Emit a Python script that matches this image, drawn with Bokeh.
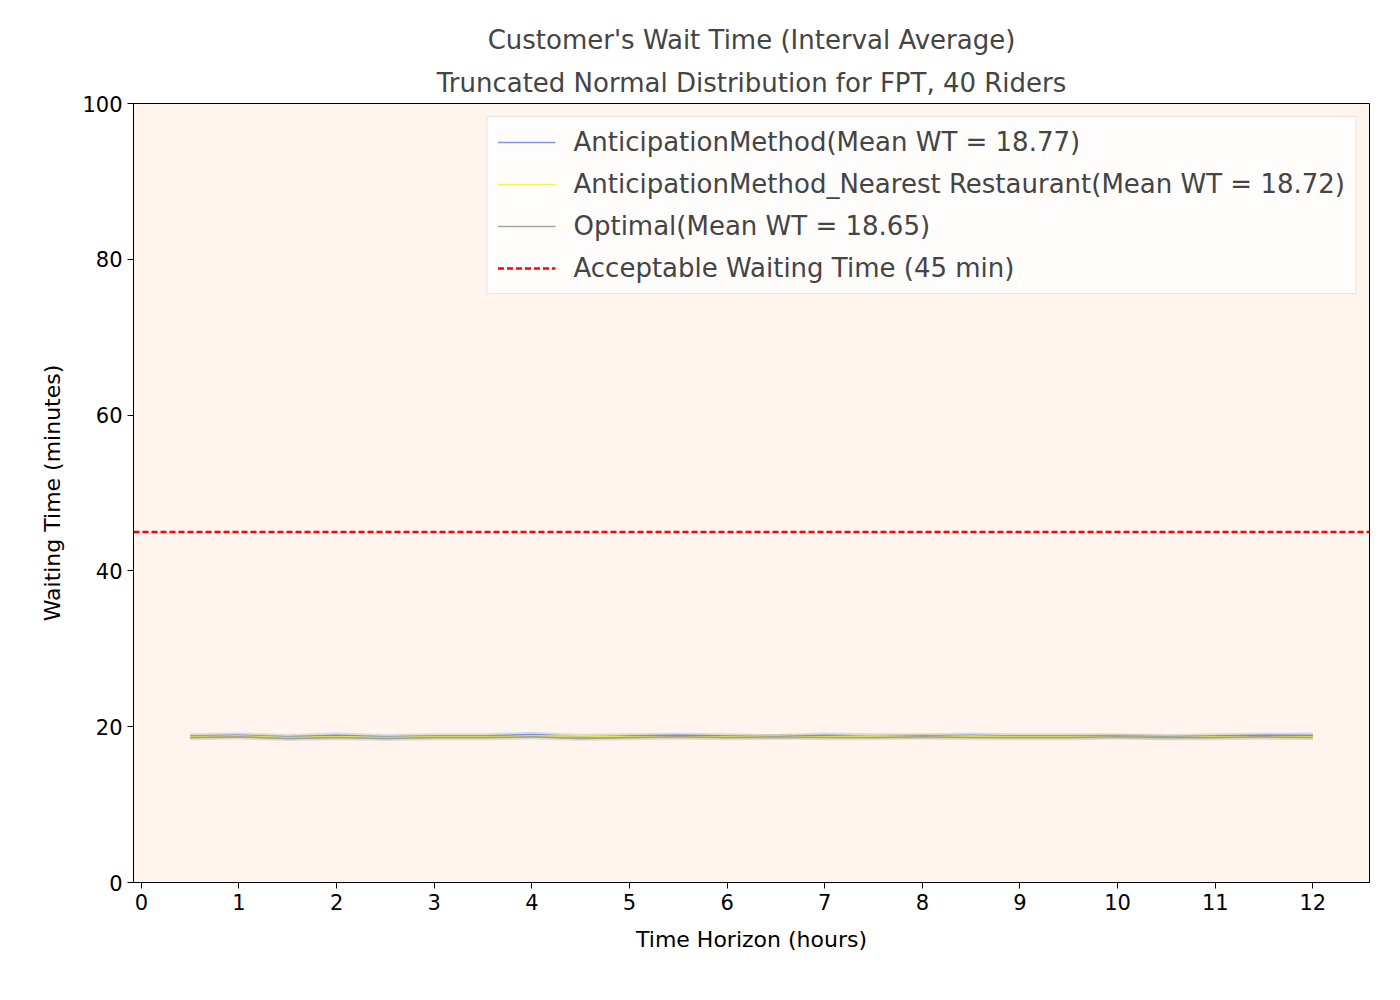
from bokeh.plotting import figure
from bokeh.models import Span, Range1d, Legend, LegendItem, FixedTicker, Title
from bokeh.embed import file_html
from bokeh.resources import INLINE

hours = [0.5 * (i + 1) for i in range(24)]

anticipation = [18.8, 18.9, 18.7, 18.9, 18.7, 18.8, 18.8, 19.0, 18.7, 18.8, 18.9, 18.8,
                18.7, 18.9, 18.8, 18.8, 18.9, 18.8, 18.8, 18.8, 18.7, 18.8, 18.9, 18.9]
nearest = [18.7, 18.8, 18.6, 18.7, 18.6, 18.7, 18.7, 18.8, 18.8, 18.7, 18.7, 18.7,
           18.7, 18.7, 18.8, 18.7, 18.8, 18.7, 18.7, 18.7, 18.6, 18.7, 18.7, 18.7]
optimal = [18.6, 18.7, 18.5, 18.6, 18.5, 18.6, 18.6, 18.7, 18.5, 18.6, 18.7, 18.6,
           18.7, 18.6, 18.6, 18.7, 18.6, 18.6, 18.6, 18.7, 18.6, 18.6, 18.7, 18.6]
band = 0.35

p = figure(width=1384, height=984, output_backend="svg", toolbar_location=None,
           x_range=Range1d(-0.08, 12.58), y_range=Range1d(0, 100),
           min_border_left=133, min_border_right=15, min_border_top=103, min_border_bottom=102)
p.background_fill_color = "#fff4ee"
p.grid.visible = False
p.outline_line_color = "black"

for y, c in [(anticipation, "#6f8ad8"), (nearest, "#e8e84a"), (optimal, "#999999")]:
    p.varea(hours, [v - band for v in y], [v + band for v in y], fill_color=c, fill_alpha=0.25)

r1 = p.line(hours, anticipation, line_color="#6f8ad8", line_width=1.5, line_alpha=0.9)
r2 = p.line(hours, nearest, line_color="#f2f23c", line_width=1.5, line_alpha=0.9)
r3 = p.line(hours, optimal, line_color="#999999", line_width=1.5, line_alpha=0.9)
r4 = p.line([-1, -1], [45, 45], line_color="red", line_width=2.5, line_dash="6 3")
p.add_layout(Span(location=45, dimension="width", line_color="red", line_width=2.5, line_dash="6 3"))

legend = Legend(items=[
    LegendItem(label="AnticipationMethod(Mean WT = 18.77)", renderers=[r1]),
    LegendItem(label="AnticipationMethod_Nearest Restaurant(Mean WT = 18.72)", renderers=[r2]),
    LegendItem(label="Optimal(Mean WT = 18.65)", renderers=[r3]),
    LegendItem(label="Acceptable Waiting Time (45 min)", renderers=[r4]),
], location="top_right", label_text_font="DejaVu Sans", label_text_font_size="26px",
    border_line_color="#cccccc", background_fill_alpha=0.8, glyph_width=58, spacing=12,
    padding=10, margin=13, label_standoff=18)
p.add_layout(legend)

for ax in (p.xaxis, p.yaxis):
    ax.major_label_text_font = "DejaVu Sans"
    ax.major_label_text_font_size = "21px"
    ax.axis_label_text_font = "DejaVu Sans"
    ax.axis_label_text_font_size = "22px"
    ax.axis_label_text_font_style = "normal"
    ax.axis_label_text_color = "black"
    ax.major_label_text_color = "black"
    ax.minor_tick_line_color = None
    ax.major_tick_out = 6
    ax.major_tick_in = 0
    ax.axis_label_standoff = 14
p.xaxis.ticker = FixedTicker(ticks=list(range(13)))
p.yaxis.ticker = FixedTicker(ticks=[0, 20, 40, 60, 80, 100])
p.xaxis.axis_label = "Time Horizon (hours)"
p.yaxis.axis_label = "Waiting Time (minutes)"

p.add_layout(Title(text="Truncated Normal Distribution for FPT, 40 Riders", align="center",
                   text_font="DejaVu Sans", text_font_size="26px", text_font_style="normal",
                   standoff=12), "above")
p.add_layout(Title(text="Customer's Wait Time (Interval Average)", align="center",
                   text_font="DejaVu Sans", text_font_size="26px", text_font_style="normal"),
             "above")

open("out.html", "w").write(file_html(p, INLINE))
